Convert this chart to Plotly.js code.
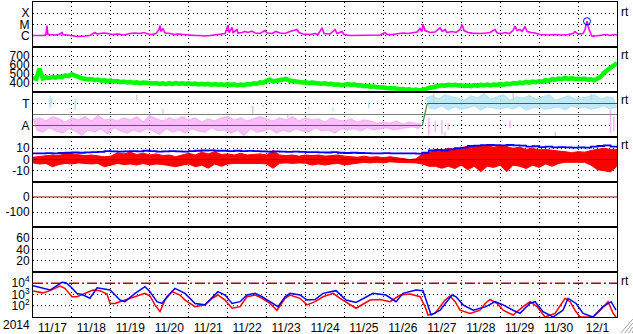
<!DOCTYPE html>
<html><head><meta charset="utf-8">
<script src="https://cdn.plot.ly/plotly-3.0.1.min.js"></script>
<style>html,body{margin:0;padding:0;background:#fff}#c{width:633px;height:334px}</style>
</head><body><div id="c"></div>
<script>
// ---------- data ----------
const START = '2014-11-17', END = '2014-12-02';
const dayMs = 86400000, hourMs = 3600000;
const T0 = Date.UTC(2014, 10, 17);

// X-ray flux (units of 1e-6 W/m2, i.e. C1 = 1), hours since 11/17 00 UT
const xrayHours = [0,1.8,4.3,6.8,8.0,8.6,9.2,11.7,14.2,16.6,17.9,18.5,21.6,24.0,27.7,32.1,35.1,38.2,39.5,41.3,43.8,46.2,48.7,52.4,56.1,59.8,62.9,66.0,68.4,70.9,73.4,75.8,77.7,78.3,78.9,80.1,81.4,84.5,86.9,89.4,91.9,95.6,99.9,103.0,106.0,109.1,112.2,115.3,118.4,120.2,120.8,122.7,123.3,125.8,126.4,128.8,130.7,132.5,135.0,136.9,139.9,143.0,144.3,147.3,149.8,152.3,155.4,158.4,160.9,162.8,164.0,166.5,170.8,173.9,175.7,178.2,179.4,183.1,186.2,187.4,190.5,191.7,195.4,200.4,204.7,209.0,213.9,217.0,218.2,221.3,225.0,228.1,231.2,234.3,236.7,238.6,239.8,240.4,241.7,244.7,247.8,250.9,252.2,254.0,255.2,258.3,260.8,263.2,264.5,265.7,268.2,270.6,275.6,279.3,281.7,284.8,286.1,289.1,291.0,293.5,295.9,297.2,298.4,300.2,301.5,303.3,304.6,307.0,309.5,312.6,317.5,321.8,326.1,329.8,332.9,334.1,336.0,339.1,340.3,341.5,342.8,344.6,347.7,350.8,353.3,355.7,358.2,360];
const xrayFlux = [1.05,1.05,1.17,1.05,1.29,8.1,1.29,1.29,1.17,1.43,1.95,1.29,1.17,0.95,0.86,0.95,1.05,1.95,1.43,1.58,1.75,1.58,1.29,1.43,1.17,1.58,1.75,1.58,1.95,1.43,1.29,1.58,3.6,8.1,2.4,4.4,1.75,1.58,1.29,1.43,1.29,1.17,1.05,1.05,0.95,1.05,1.17,1.29,1.58,8.7,1.95,5.4,1.95,3.6,1.75,1.95,2.4,1.95,2.6,1.75,1.58,2.9,1.75,1.58,2.4,1.75,1.58,2.4,2.9,3.6,1.95,1.43,1.29,1.58,1.29,5.1,1.58,1.43,3.6,1.58,2.4,1.29,1.05,1.05,1.17,1.05,1.17,1.95,1.29,1.29,1.58,1.75,1.58,1.95,2.15,4.4,2.4,10.6,2.9,1.95,2.15,5.1,2.4,3.6,1.95,2.4,1.95,3.6,9.4,2.9,1.95,1.7,1.58,1.75,1.95,3.6,1.75,1.58,1.95,1.58,2.9,7.1,2.9,3.6,2.4,6.6,2.4,1.95,1.75,1.29,1.17,1.29,1.17,1.29,1.58,2.4,1.43,1.58,3.6,19.6,3.6,0.86,0.95,1.1,1.29,1.05,1.29,1.17];
const flareHours = [341.5];
const flareFlux = [19.6];

// Solar wind speed (km/s), every 2 h from 11/17 00 UT
const speed = [
 455,447,560,450,462,455,466,458,472,465,484,476,
 498,480,470,452,448,440,445,432,438,425,430,420,
 428,418,422,410,416,405,412,402,408,398,406,400,
 404,394,400,390,397,388,398,390,400,392,398,390,
 396,388,394,385,392,384,390,382,388,380,386,378,
 388,378,386,374,382,376,388,384,396,392,408,404,
 425,436,418,422,430,440,445,428,420,412,416,405,
 408,398,404,396,400,392,396,386,392,382,386,376,
 380,388,378,386,372,376,364,368,358,362,352,356,
 350,344,346,336,340,330,334,325,330,320,326,318,
 322,332,345,352,362,366,374,370,380,374,380,372,
 376,366,372,364,376,368,380,372,382,374,384,378,
 388,380,394,386,400,394,406,398,412,404,416,410,
 420,414,432,424,444,436,448,442,456,446,452,444,
 448,440,446,436,442,430,452,470,515,545,570,598,
 622];

// IMF sector scatter envelopes (A = -1, T = +1)
// away: upper edge every 4 h from 00 UT, lower edge every 4 h from 02 UT
const awayHi = [-0.5,-0.3,-0.6,-0.2,-0.4,-0.7, -0.3,-0.5,-0.2,-0.6,-0.1,-0.5, -0.4,-0.6,-0.3,-0.5,-0.2,-0.7,
 -0.1,-0.4,-0.6,-0.3,-0.5,-0.2, -0.5,-0.3,-0.7,-0.4,-0.6,-0.3, -0.2,-0.5,-0.3,-0.6,-0.4,-0.2,
 -0.4,-0.6,-0.3,-0.5,-0.2,-0.6, -0.3,-0.5,-0.4,-0.7,-0.3,-0.5, -0.6,-0.4,-0.7,-0.5,-0.6,-0.8,
 -0.7,-0.8,-0.6,-0.9,-0.7,-0.8, -1.0];
const awayLo = [-1.4,-1.6,-1.2,-1.5,-1.7,-1.3, -1.5,-1.9,-1.4,-1.6,-1.3,-1.8, -1.2,-1.5,-1.7,-1.4,-1.6,-1.3,
 -1.5,-1.8,-1.3,-1.6,-1.4,-1.7, -1.3,-1.5,-1.6,-1.2,-1.5,-1.4, -1.7,-1.4,-1.9,-1.3,-1.6,-1.5,
 -1.3,-1.7,-1.4,-1.6,-1.3,-1.5, -1.6,-1.2,-1.5,-1.4,-1.7,-1.3, -1.4,-1.3,-1.5,-1.2,-1.4,-1.3,
 -1.2,-1.4,-1.3,-1.2,-1.1,-1.3];
const towardStartHour = 242;
const towardHi = [1.5,1.7,1.4,1.8,1.6,1.5, 1.3,1.7,1.5,1.9,1.4,1.6, 1.8,1.3,1.6,1.5,1.7,1.4, 1.6,1.8,1.3,1.5,1.7,1.4, 1.5,1.6,1.8,1.4,1.6,1.5];
const towardLo = [0.6,0.5,0.8,0.4,0.7,0.5, 0.6,0.8,0.4,0.7,0.6,0.5, 0.7,0.5,0.8,0.4,0.6,0.7, 0.5,0.6,0.7,0.4,0.8,0.6, 0.7,0.5,0.6,0.8,0.5,0.7];
const sparseBlueHours = [10.5, 11.5, 26, 80, 135, 142, 185, 207];
const sparseBlueLo    = [0.6, 0.9, 0.4, -0.05, 0.6, 0.7, 0.3, 0.6];
const sparseBlueHi    = [1.7, 1.5, 1.4, 0.5, 0.8, 0.9, 0.6, 1.0];
const sparseGrayHours = [64, 135.5, 157, 170, 247, 254, 296, 306, 322, 344];
const sparseGrayLo    = [1.3, -0.05, -0.3, 0.5, 1.0, -2.0, 1.3, 1.5, -2.0, 1.4];
const sparseGrayHi    = [1.8, 0.7, 0.0, 0.7, 1.95, -1.6, 1.95, 1.8, -1.6, 1.9];
const sparsePinkHours = [244, 248, 252, 256, 294, 356, 358];
const sparsePinkLo    = [-1.9, -1.6, -1.8, -1.4, -1.2, -1.7, -1.5];
const sparsePinkHi    = [-0.3, -0.6, -0.5, -0.8, -0.6, 0.4, -0.2];
const awaySectorHours = [0, 240];
const changeHours = [240, 243];
const towardSectorHours = [243, 360];

// IMF Bz envelope and Bt (nT), every 4 h
const bzUpper = [2,2.5,3,4,3.5,5.5,5,4,3.5,4, 3,2.5,3,6,5,6.5,4.5,5.5,4,5, 3.5,4,2.5,4,5.5,4,6.5,5,7,4.5, 5,4,5.5,4,4.5,5,4,8,4,3.5, 4,3,4,3.5,4,3,3.5,4,3,2.5, 2,3,2,2.5,1.5,2.5,1.5,0.5,0,0.5, 5,5.5,9,8,10,9,10,12,12.5,12, 12,11,12,11.5,10,11,9,10,8.5,9, 8,7.5,7,6,7,6.5,8,9,10,9, 9];
const bzLower = [-3,-4,-3.5,-6.4,-4.5,-3.5,-4,-3,-3.5,-4, -3.5,-6.4,-5,-3.5,-4.5,-4,-4.9,-3.5,-4.9,-4, -4.5,-5.5,-6.4,-5,-4,-6.4,-5,-7.8,-4,-6, -4,-3.5,-3.4,-3.4,-3,-3.5,-4,-7.8,-3.4,-3, -3.5,-3,-3.4,-4.9,-4,-4.9,-4,-3.5,-4.9,-4, -3,-2.5,-3,-2.5,-3,-2,-2.5,-2.5,-3,-3, -4,-6,-6,-7.8,-6,-8,-5,-9,-6,-10.8, -6,-7,-5,-10.8,-5,-6,-8,-5,-7,-4, -6,-3.5,-2.5,-2.5,-3,-2.5,-5,-9,-10,-11, -6];
const bt = [5.5,5.5,5.6,5.5,5.8,6,6.2,6,6.3,6.5, 6.8,7.5,7.2,7,7.3,7.5,7.2,7.8,7.5,7, 7.3,7.5,7.2,7,7.5,7.8,8,8.2,7.8,7.8, 7.5,7.8,7.5,7.6,7.5,7.3,7,7.2,7,6.8, 7,6.8,6.5,6.5,6.3,6.2,6.5,6,5.8,6, 5.8,5.6,5.5,5.5,5.6,5.5,5.4,5.5,5.5,5.3, 6,8,8.5,8,9,10,10.5,12,12.3,12.8, 12.9,12.8,12.5,12.9,12.5,12.3,11.5,11.8,11,11.4, 10.8,11,10.8,10.5,10.8,10.5,11.5,12,12.5,11.5, 10.5];

// Electron flux (two channels)
const blueFluxHours = [0,10.5,17.9,20.3,22.8,27,30.2,35.1,39.5,47.5,50.6,53.6,56.7,62.9,69,72.1,76.4,79.5,82.6,87.5,93.7,96.8,99.9,106,110.4,114,118.4,122.7,127.6,131.9,136.9,141.2,146.1,151,155.4,158.4,164.6,168.9,173.9,178.8,186.8,193,199.1,209.6,217.6,223.8,228.1,236.1,240.4,243.5,245.4,251,258.3,260.8,265.1,271.3,279.3,284.8,289.8,295.9,300.2,306.4,309.5,314.4,320.6,326.7,329.8,334.8,339.1,345.2,351.4,356.4,359.4];
const blueFlux = [6000,2500,12000,11000,5600,1260,1000,460,4000,2500,900,320,230,1260,5000,1800,230,160,630,3500,1260,460,160,120,550,1800,900,160,230,900,1260,630,230,83,630,1260,900,320,360,1260,2200,320,200,1260,900,230,1260,2500,2200,83,15,40,900,630,120,40,83,230,120,40,21,170,230,30,10,40,460,160,21,10,83,230,40];
const redFluxHours = [0,6.2,10.5,16.6,19.7,24,27.1,30.8,37,41.3,45.6,47.5,50.6,53.6,62.9,69,72.1,75.2,78.3,81.4,85.7,90.6,93.7,96.8,99.9,106,110.4,114,118.4,122.7,127.6,131.9,136.9,141.2,146.1,150.4,155.4,158.4,164.6,168.9,173.9,178.8,185,189.3,195.4,199.1,207.8,213.9,220.1,226.3,232.4,238.6,241.7,243.5,247.8,254,257.1,260.2,263.2,269.4,275.6,278.7,281.7,286.1,289.8,295.9,302.1,306.4,310.7,315.6,321.8,328,331.1,334.1,337.2,345.2,349.6,354.5,357.6,359.4];
const redFlux = [2000,1400,2200,5600,3500,630,630,1100,2500,2200,1100,160,160,230,630,1260,740,120,30,320,1800,900,320,160,83,120,460,900,320,60,83,630,900,460,160,40,460,900,460,120,230,630,1260,460,120,60,320,360,230,900,1100,630,83,15,21,320,740,230,40,21,40,160,360,160,40,15,83,230,83,10,21,460,230,40,10,10,40,230,21,10];
const fluxAlert = [10000];
const fluxGrid = [100, 1000];

// tick labels
const xrayTicks = [1, 10, 100], xrayLabels = ['C', 'M', 'X'];
const speedTicks = [400, 500, 600, 700];
const sectorTicks = [-1, 1], sectorLabels = ['A', 'T'];
const bTicks = [-10, 0, 10], bLabels = ['-10', '0', '10'];
const dstTicks = [-100, 0], dstLabels = ['-100', '0'];
const kpTicks = [20, 40, 60];
const fluxTicks = [100, 1000, 10000], fluxLabels = ['10<sup>2</sup>', '10<sup>3</sup>', '10<sup>4</sup>'];

// ---------- build ----------
const toT = hs => hs.map(h => (h == null ? null : T0 + h * hourMs));
const span = [START, END];
function segs(hours, lo, hi) {
  const x = [], y = [];
  hours.forEach((h, i) => { x.push(h, h, null); y.push(lo[i], hi[i], null); });
  return {x: toT(x), y};
}
const L = (c, w, d) => ({color: c, width: w, dash: d || 'solid'});
const traces = [];
// panel 1
traces.push({x: toT(xrayHours), y: xrayFlux, yaxis: 'y', mode: 'lines', line: L('#ff00ff', 1.6)});
traces.push({x: toT(flareHours), y: flareFlux, yaxis: 'y', mode: 'markers',
  marker: {symbol: 'circle-open', size: 7, color: '#0000ff', line: {width: 1, color: '#0000ff'}}});
// panel 2
traces.push({x0: T0, dx: 2 * hourMs, y: speed, yaxis: 'y2', mode: 'lines', line: L('#00ff00', 4.5)});
// panel 3
const PINK = '#f5b4f5', LBLUE = '#b4e4fa';
traces.push({x0: T0, dx: 4 * hourMs, y: awayHi, yaxis: 'y3', mode: 'lines', line: L(PINK, 1.2)});
traces.push({x0: T0 + 2 * hourMs, dx: 4 * hourMs, y: awayLo, yaxis: 'y3', mode: 'lines', line: L(PINK, 1.2), fill: 'tonexty', fillcolor: 'rgba(245,180,245,0.85)'});
traces.push({x0: T0 + towardStartHour * hourMs, dx: 4 * hourMs, y: towardHi, yaxis: 'y3', mode: 'lines', line: L(LBLUE, 1.2)});
traces.push({x0: T0 + (towardStartHour + 2) * hourMs, dx: 4 * hourMs, y: towardLo, yaxis: 'y3', mode: 'lines', line: L(LBLUE, 1.2), fill: 'tonexty', fillcolor: 'rgba(180,228,250,0.85)'});
let s = segs(sparseBlueHours, sparseBlueLo, sparseBlueHi);
traces.push({x: s.x, y: s.y, yaxis: 'y3', mode: 'lines', line: L(LBLUE, 1.5), connectgaps: false});
s = segs(sparseGrayHours, sparseGrayLo, sparseGrayHi);
traces.push({x: s.x, y: s.y, yaxis: 'y3', mode: 'lines', line: L('#d0d0d0', 1.5), connectgaps: false});
s = segs(sparsePinkHours, sparsePinkLo, sparsePinkHi);
traces.push({x: s.x, y: s.y, yaxis: 'y3', mode: 'lines', line: L(PINK, 1.5), connectgaps: false});
traces.push({x: span, y: [0, 0], yaxis: 'y3', mode: 'lines', line: L('#808080', 1.2)});
traces.push({x: toT(awaySectorHours), y: [-1, -1], yaxis: 'y3', mode: 'lines', line: L('#ff1a1a', 1.2)});
traces.push({x: toT(changeHours), y: [-1, 1], yaxis: 'y3', mode: 'lines', line: L('#3c8c3c', 1.2)});
traces.push({x: toT(towardSectorHours), y: [1, 1], yaxis: 'y3', mode: 'lines', line: L('#3050e0', 1.2)});
// panel 4
traces.push({x0: T0, dx: 4 * hourMs, y: bzUpper, yaxis: 'y4', mode: 'lines', line: L('#ff0000', 1)});
traces.push({x0: T0, dx: 4 * hourMs, y: bzLower, yaxis: 'y4', mode: 'lines', line: L('#ff0000', 1), fill: 'tonexty', fillcolor: '#ff0000'});
traces.push({x: span, y: [0, 0], yaxis: 'y4', mode: 'lines', line: L('#a00000', 1.2)});
traces.push({x0: T0, dx: 4 * hourMs, y: bt, yaxis: 'y4', mode: 'lines', line: {color: '#0000ff', width: 1.8, shape: 'hv'}});
// panel 5
traces.push({x: span, y: [0, 0], yaxis: 'y5', mode: 'lines', line: L('#a00000', 1.2)});
// panel 6 (no data)
traces.push({x: [], y: [], yaxis: 'y6', mode: 'lines'});
// panel 7
fluxGrid.forEach(v => traces.push({x: span, y: [v, v], yaxis: 'y7', mode: 'lines', line: L('#000000', 1, '1px,3px')}));
traces.push({x: span, y: [fluxAlert[0], fluxAlert[0]], yaxis: 'y7', mode: 'lines', line: L('#b00000', 1.5, '10px,3px,2px,3px')});
traces.push({x: toT(redFluxHours), y: redFlux, yaxis: 'y7', mode: 'lines', line: L('#ff0000', 1.5)});
traces.push({x: toT(blueFluxHours), y: blueFlux, yaxis: 'y7', mode: 'lines', line: L('#0000ff', 1.5)});

traces.forEach(t => { t.xaxis = 'x'; t.hoverinfo = 'skip'; t.showlegend = false; });

const FONT = 'Liberation Sans, Arial, Helvetica, sans-serif';
function yax(k, extra) {
  return Object.assign({
    domain: [(7 - k) / 7, (8 - k) / 7], anchor: 'x',
    showline: true, mirror: true, linecolor: '#000', linewidth: 1,
    ticks: '', showgrid: true, gridcolor: '#000', gridwidth: 1, griddash: '1px,3px',
    zeroline: false, tickfont: {size: 12, color: '#000', family: FONT}, fixedrange: true
  }, extra);
}
const layout = {
  width: 633, height: 334,
  margin: {l: 33, r: 16, t: 2, b: 17, pad: 0},
  paper_bgcolor: '#fff', plot_bgcolor: '#fff',
  font: {family: FONT, size: 12, color: '#000'},
  showlegend: false, hovermode: false,
  xaxis: {
    type: 'date', range: span, anchor: 'y7',
    showline: true, mirror: 'all', linecolor: '#000', linewidth: 1,
    showgrid: true, gridcolor: '#000', gridwidth: 1, griddash: '1px,3px',
    dtick: dayMs, tick0: START, tickformat: '%-m/%-d', ticklabelmode: 'period',
    ticks: '', zeroline: false, fixedrange: true, tickfont: {size: 12, color: '#000'}
  },
  yaxis:  yax(1, {type: 'log', range: [-1, 3], tickvals: xrayTicks, ticktext: xrayLabels}),
  yaxis2: yax(2, {range: [300, 800], tickvals: speedTicks}),
  yaxis3: yax(3, {range: [-2.05, 2.05], tickvals: sectorTicks, ticktext: sectorLabels}),
  yaxis4: yax(4, {range: [-20, 20], tickvals: bTicks, ticktext: bLabels}),
  yaxis5: yax(5, {range: [-200, 100], tickvals: dstTicks, ticktext: dstLabels}),
  yaxis6: yax(6, {range: [0, 80], tickvals: kpTicks}),
  yaxis7: yax(7, {type: 'log', range: [1, 5], tickvals: fluxTicks, ticktext: fluxLabels, showgrid: false}),
  annotations: [
    ...[0.968, 0.832, 0.689, 0.546, 0.114].map(y => ({
      xref: 'paper', yref: 'paper', x: 1, y, xanchor: 'left', yanchor: 'middle', xshift: 2,
      text: 'rt', showarrow: false, font: {size: 12, color: '#000'}})),
    {xref: 'paper', yref: 'paper', x: -0.028, y: -0.024, xanchor: 'center', yanchor: 'middle',
     text: '2014', showarrow: false, font: {size: 12, color: '#000'}}
  ],
  shapes: [0, 1, 2, 3].map(i => ({
    type: 'line', xref: 'paper', yref: 'paper', layer: 'above',
    x0: 1.0065 + i * 0.0068, y0: -0.051, x1: 1.027, y1: -0.0067 - i * 0.0124,
    line: {color: '#a0a0a0', width: 1}}))
};
Plotly.newPlot('c', traces, layout, {staticPlot: true, displayModeBar: false});
</script></body></html>
